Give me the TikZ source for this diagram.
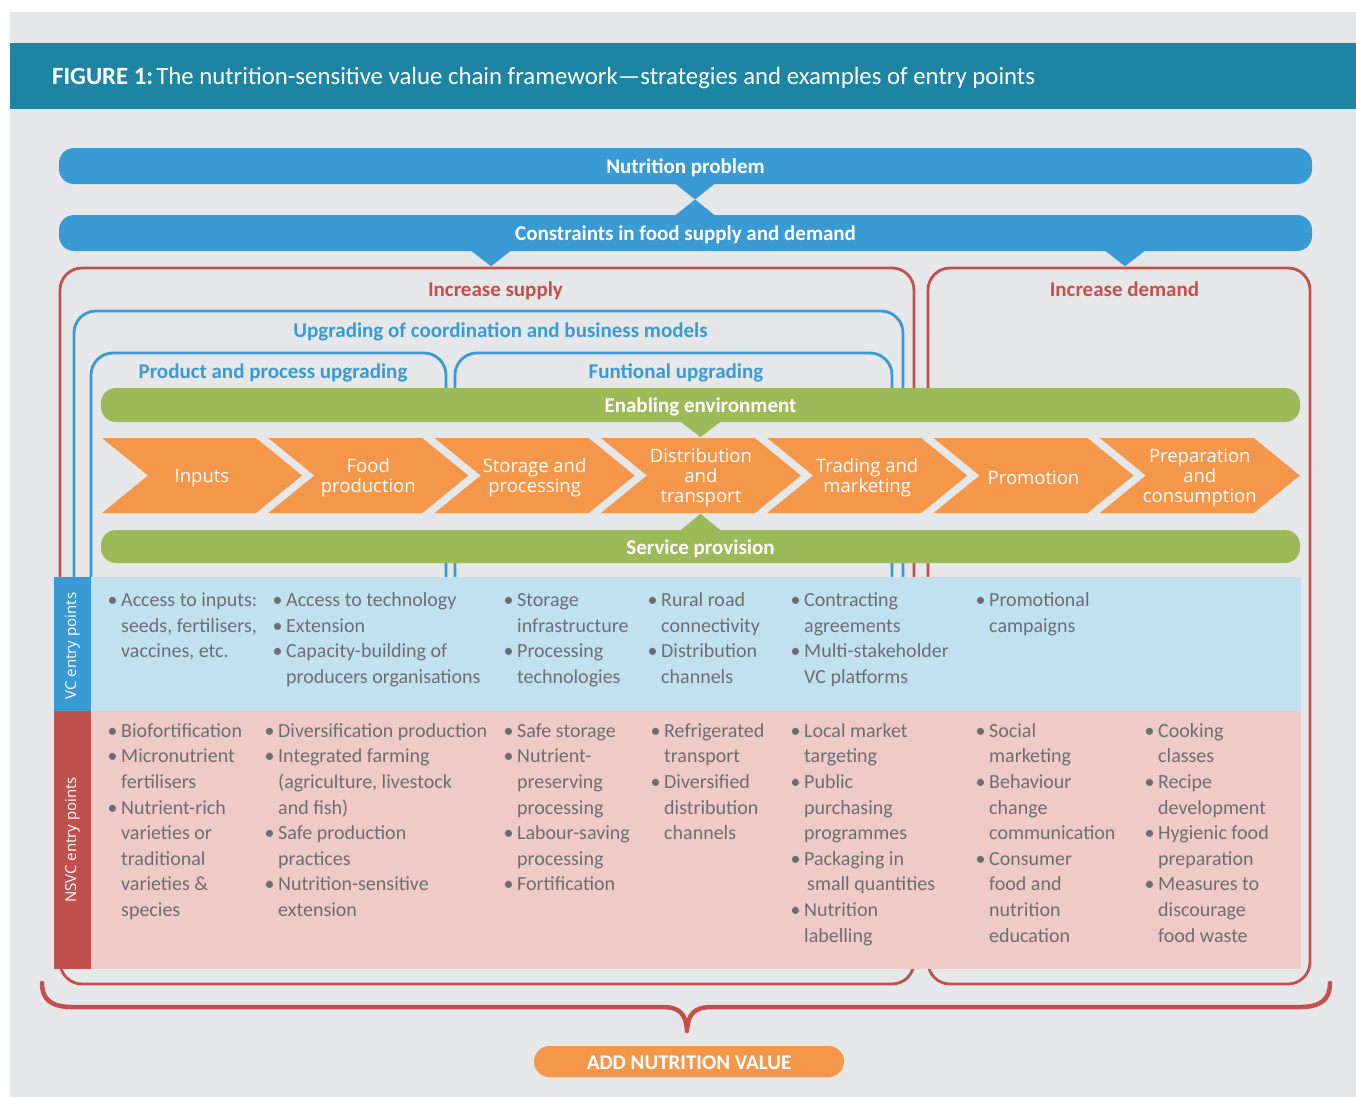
\documentclass[tikz,border=0pt]{standalone}
\usepackage{fontspec}
\setmainfont{Carlito}
\newfontfamily\chevfont{Open Sans}
\usetikzlibrary{calc}
\definecolor{bggray}{HTML}{E6E7E9}
\definecolor{teal1}{HTML}{1D84A3}
\definecolor{nsblue}{HTML}{3A9AD3}
\definecolor{nsred}{HTML}{C4504D}
\definecolor{stripred}{HTML}{BF504C}
\definecolor{nsgreen}{HTML}{9CBA5A}
\definecolor{nsorange}{HTML}{F5974B}
\definecolor{vcblue}{HTML}{C1E1F1}
\definecolor{nspink}{HTML}{EFCAC7}
\definecolor{txtgray}{HTML}{6D6E71}
\newcommand{\bdot}{\makebox[10.5pt][l]{\hspace{-3pt}\textbullet}}
\newcommand{\bind}{\hspace*{10.5pt}}
\tikzset{
  topbar/.style={rounded corners=15pt, text=white, inner sep=0, text height=15pt, text depth=0pt, font=\fontsize{21}{24}\selectfont\bfseries},
  heading/.style={anchor=base, inner sep=0, font=\fontsize{21}{24}\selectfont\bfseries},
  chevtext/.style={text=white, align=center, inner sep=0, yshift=-2.5pt, font=\chevfont\fontsize{18.5}{20}\selectfont},
  bullets/.style={anchor=north west, inner sep=0, align=left, text=txtgray, font=\fontsize{20}{25.6}\selectfont},
  redline/.style={draw=nsred, line width=2.8pt},
  blueline/.style={draw=nsblue, line width=2.8pt},
  sidelabel/.style={rotate=90, text=white, inner sep=0, font=\chevfont\fontsize{15}{18}\selectfont}
}
\begin{document}
\begin{tikzpicture}[x=1pt,y=-1pt]
\useasboundingbox (0,0) rectangle (1356,1097);
\fill[white] (0,0) rectangle (1356,1097);
\fill[bggray] (10,12) rectangle (1356,1097);
\fill[teal1] (10,43) rectangle (1356,109);
\node[anchor=base west, text=white, inner sep=0, font=\fontsize{24.8}{28}\selectfont] (title) at (52,84.5) {\textbf{FIGURE 1:}\hspace{3pt}The nutrition-sensitive value chain framework—strategies and examples of entry points};

\draw[redline, rounded corners=22pt] (60,268) rectangle (914,984);
\draw[redline, rounded corners=22pt] (928,268) rectangle (1310,984);
\draw[blueline, rounded corners=22pt] (74,580) |- (903,311) -- (903,580);
\draw[blueline, rounded corners=22pt] (91,580) |- (446,353) -- (446,580);
\draw[blueline, rounded corners=22pt] (455,580) |- (892,353) -- (892,580);
\fill[bggray] (101,388) rectangle (1300,563);

\node[topbar, fill=nsblue, minimum width=1253pt, minimum height=36pt] (np) at (685.5,166) {Nutrition problem};
\node[topbar, fill=nsblue, minimum width=1253pt, minimum height=36pt] (ct) at (685.5,233) {Constraints in food supply and demand};
\coordinate (bt) at ($(np.south)!0.5!(ct.north)+(9.5,0)$);
\fill[nsblue] (bt) -- ++(-20,-16) -- ++(40,0) -- cycle;
\fill[nsblue] (bt) -- ++(-20,16) -- ++(40,0) -- cycle;
\fill[nsblue] ($(ct.south)+(-214.5,-0.5)$) -- ++(40,0) -- ++(-20,15.5) -- cycle;
\fill[nsblue] ($(ct.south)+(419.5,-0.5)$) -- ++(40,0) -- ++(-20,15.5) -- cycle;

\node[heading, text=nsred] (is) at (495.5,296.5) {Increase supply};
\node[heading, text=nsred] (id) at (1124.5,296.5) {Increase demand};
\node[heading, text=nsblue] (uc) at (500.5,337.5) {Upgrading of coordination and business models};
\node[heading, text=nsblue] (pp) at (273,378.5) {Product and process upgrading};
\node[heading, text=nsblue] (fu) at (676,378.5) {Funtional upgrading};

\node[topbar, fill=nsgreen, minimum width=1199pt, minimum height=34pt] (ee) at (700.5,405) {Enabling environment};
\node[topbar, fill=nsgreen, minimum width=1199pt, minimum height=33pt] (sp) at (700.5,546.5) {Service provision};
\fill[nsgreen] ($(ee.south)+(-20,-0.5)$) -- ++(40,0) -- ++(-20,15.5) -- cycle;
\fill[nsgreen] ($(sp.north)+(-20,0.5)$) -- ++(40,0) -- ++(-20,-16.5) -- cycle;

\foreach \i/\lbl in {0/Inputs,1/{Food\\production},2/{Storage and\\processing},3/{Distribution\\and\\transport},4/{Trading and\\marketing},5/Promotion,6/{Preparation\\and\\consumption}}{
  \pgfmathsetmacro{\sx}{102+166.3*\i}
  \fill[nsorange] (\sx,438) -- ++(154,0) -- ++(46,37.5) -- ++(-46,37.5) -- ++(-154,0) -- ++(46,-37.5) -- cycle;
  \node[chevtext] (ch\i) at (\sx+100,475.5) {\lbl};
}

\fill[nsblue] (54,577) rectangle (91,711);
\fill[vcblue] (91,577) rectangle (1301,711);
\fill[stripred] (54,711) rectangle (91,969);
\fill[nspink] (91,711) rectangle (1301,969);
\node[sidelabel] (vclab) at (72.5,646) {VC entry points};
\node[sidelabel] (nslab) at (72.5,840) {NSVC entry points};

\node[bullets] (vc1) at (110.5,588.6) {\strut\bdot Access to inputs:\\\bind seeds, fertilisers,\\\bind vaccines, etc.};
\node[bullets] (vc2) at (275.5,588.6) {\strut\bdot Access to technology\\\bdot Extension\\\bdot Capacity-building of\\\bind producers organisations};
\node[bullets] (vc3) at (506.5,588.6) {\strut\bdot Storage\\\bind infrastructure\\\bdot Processing\\\bind technologies};
\node[bullets] (vc4) at (650.5,588.6) {\strut\bdot Rural road\\\bind connectivity\\\bdot Distribution\\\bind channels};
\node[bullets] (vc5) at (793.5,588.6) {\strut\bdot Contracting\\\bind agreements\\\bdot Multi-stakeholder\\\bind VC platforms};
\node[bullets] (vc6) at (978.5,588.6) {\strut\bdot Promotional\\\bind campaigns};

\node[bullets] (ns1) at (110.5,719.1) {\strut\bdot Biofortification\\\bdot Micronutrient\\\bind fertilisers\\\bdot Nutrient-rich\\\bind varieties or\\\bind traditional\\\bind varieties \&\\\bind species};
\node[bullets] (ns2) at (267.5,719.1) {\strut\bdot Diversification production\\\bdot Integrated farming\\\bind (agriculture, livestock\\\bind and fish)\\\bdot Safe production\\\bind practices\\\bdot Nutrition-sensitive\\\bind extension};
\node[bullets] (ns3) at (506.5,719.1) {\strut\bdot Safe storage\\\bdot Nutrient-\\\bind preserving\\\bind processing\\\bdot Labour-saving\\\bind processing\\\bdot Fortification};
\node[bullets] (ns4) at (653.5,719.1) {\strut\bdot Refrigerated\\\bind transport\\\bdot Diversified\\\bind distribution\\\bind channels};
\node[bullets] (ns5) at (793.5,719.1) {\strut\bdot Local market\\\bind targeting\\\bdot Public\\\bind purchasing\\\bind programmes\\\bdot Packaging in\\\bind\hspace*{3pt}small quantities\\\bdot Nutrition\\\bind labelling};
\node[bullets] (ns6) at (978.5,719.1) {\strut\bdot Social\\\bind marketing\\\bdot Behaviour\\\bind change\\\bind communication\\\bdot Consumer\\\bind food and\\\bind nutrition\\\bind education};
\node[bullets] (ns7) at (1147.5,719.1) {\strut\bdot Cooking\\\bind classes\\\bdot Recipe\\\bind development\\\bdot Hygienic food\\\bind preparation\\\bdot Measures to\\\bind discourage\\\bind food waste};

\draw[nsred, line width=4.5pt, line cap=round, line join=round] (42,983) .. controls (42,1000) and (52,1007) .. (72,1007) -- (662,1007) .. controls (680,1007) and (686,1014) .. (687,1031) .. controls (688,1014) and (694,1007) .. (712,1007) -- (1300,1007) .. controls (1320,1007) and (1330,1000) .. (1330,983);
\node[fill=nsorange, rounded corners=15.5pt, minimum width=310pt, minimum height=31pt, text=white, inner sep=0, text height=15pt, text depth=0pt, font=\fontsize{21}{24}\selectfont\bfseries] (av) at (689,1061.5) {ADD NUTRITION VALUE};
\end{tikzpicture}
\end{document}
